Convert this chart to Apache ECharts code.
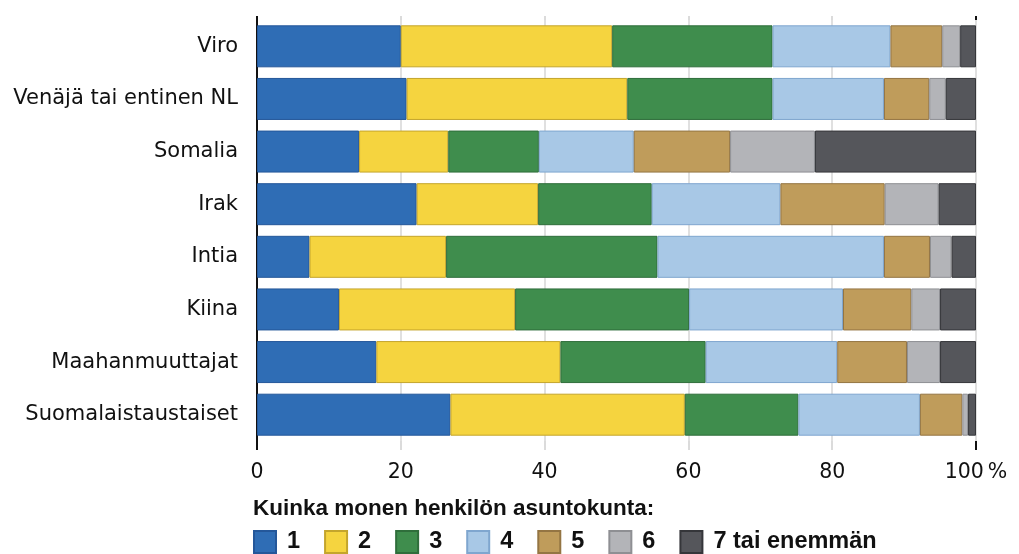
<!DOCTYPE html>
<html><head><meta charset="utf-8">
<script src="https://cdn.jsdelivr.net/npm/echarts@6/dist/echarts.min.js"></script>
<style>html,body{margin:0;padding:0;background:#fff}#c{width:1019px;height:554px}</style>
</head><body><div id="c"></div>
<script>
const categories = ["Viro","Venäjä tai entinen NL","Somalia","Irak","Intia","Kiina","Maahanmuuttajat","Suomalaistaustaiset"];
const seriesNames = ["1","2","3","4","5","6","7 tai enemmän"];
const s1 = [20.0, 20.8, 14.2, 22.2, 7.3, 11.4, 16.6, 26.9];
const s2 = [29.4, 30.7, 12.4, 16.9, 19.0, 24.5, 25.6, 32.6];
const s3 = [22.3, 20.2, 12.6, 15.8, 29.4, 24.2, 20.2, 15.8];
const s4 = [16.4, 15.5, 13.2, 17.9, 31.5, 21.4, 18.3, 16.9];
const s5 = [7.2, 6.3, 13.4, 14.5, 6.4, 9.5, 9.7, 5.9];
const s6 = [2.5, 2.3, 11.8, 7.5, 3.0, 4.0, 4.6, 0.8];
const s7 = [2.2, 4.2, 22.4, 5.2, 3.4, 5.0, 5.0, 1.1];
const tickValues = [0, 20, 40, 60, 80, 100];
const legendTitle = "Kuinka monen henkilön asuntokunta:";

const colors = ["#2f6db5","#f5d43f","#3f8d4d","#a8c8e6","#bf9c5b","#b3b4b8","#55565b"];
const borders = ["#24579a","#c4a52c","#2f6e3b","#7fa6cf","#947543","#8e8f93","#35363a"];
const allData = [s1,s2,s3,s4,s5,s6,s7];
const FONT = "DejaVu Sans";
const BOLD = "Liberation Sans";

const chart = echarts.init(document.getElementById('c'), null, {renderer:'canvas'});
const series = allData.map((d,i)=>({
  name: seriesNames[i], type:'bar', stack:'a', data:d, barWidth:42,
  xAxisIndex:0, yAxisIndex:0,
  itemStyle:{color:colors[i], borderColor:borders[i], borderWidth:1}
}));
const tickAxis = (pos, len, color, interval, width) => ({
  type:'value', min:tickValues[0], max:tickValues[tickValues.length-1], interval:interval, position:pos,
  axisLine:{show:false}, axisLabel:{show:false}, splitLine:{show:false},
  axisTick:{show:true, length:len, lineStyle:{color:color, width:width}}
});
chart.setOption({
  animation:false,
  title:{text:legendTitle, left:248, top:492, textStyle:{fontFamily:BOLD, fontWeight:'bold', fontSize:22.5, color:'#111', lineHeight:24}},
  legend:{left:248, top:525, itemWidth:22, itemHeight:22, itemGap:24, icon:'rect',
    textStyle:{fontFamily:BOLD, fontWeight:'bold', fontSize:23.5, lineHeight:22, color:'#111', padding:[0,0,0,6]},
    data:seriesNames},
  grid:{left:257, right:43, top:20, bottom:113, containLabel:false},
  xAxis:[
    {type:'value', min:tickValues[0], max:tickValues[tickValues.length-1], interval:20, position:'bottom',
     axisLine:{show:false},
     axisTick:{show:true, length:9, lineStyle:{color:'#d0d0d0', width:1.5}},
     splitLine:{show:true, lineStyle:{color:'#d6d6d6', width:1.5}},
     axisLabel:{margin:21, fontFamily:FONT, fontSize:20.5, color:'#111',
       formatter:v=> v===100 ? '100\u2009%' : String(v)}},
    tickAxis('bottom', 9, '#111', 100, 2),
    tickAxis('top', 4, '#d0d0d0', 20, 1.5),
    tickAxis('top', 4, '#111', 100, 2)
  ],
  yAxis:[
    {type:'category', data:categories, inverse:true, position:'left',
     axisLine:{show:true, lineStyle:{color:'#111', width:2}},
     axisTick:{show:false},
     axisLabel:{margin:19, fontFamily:FONT, fontSize:21, color:'#111'}},
    {type:'category', data:categories, inverse:true, position:'right',
     axisLine:{show:true, lineStyle:{color:'#111', width:2}},
     axisTick:{show:false}, axisLabel:{show:false}}
  ],
  series:series
});
</script></body></html>
